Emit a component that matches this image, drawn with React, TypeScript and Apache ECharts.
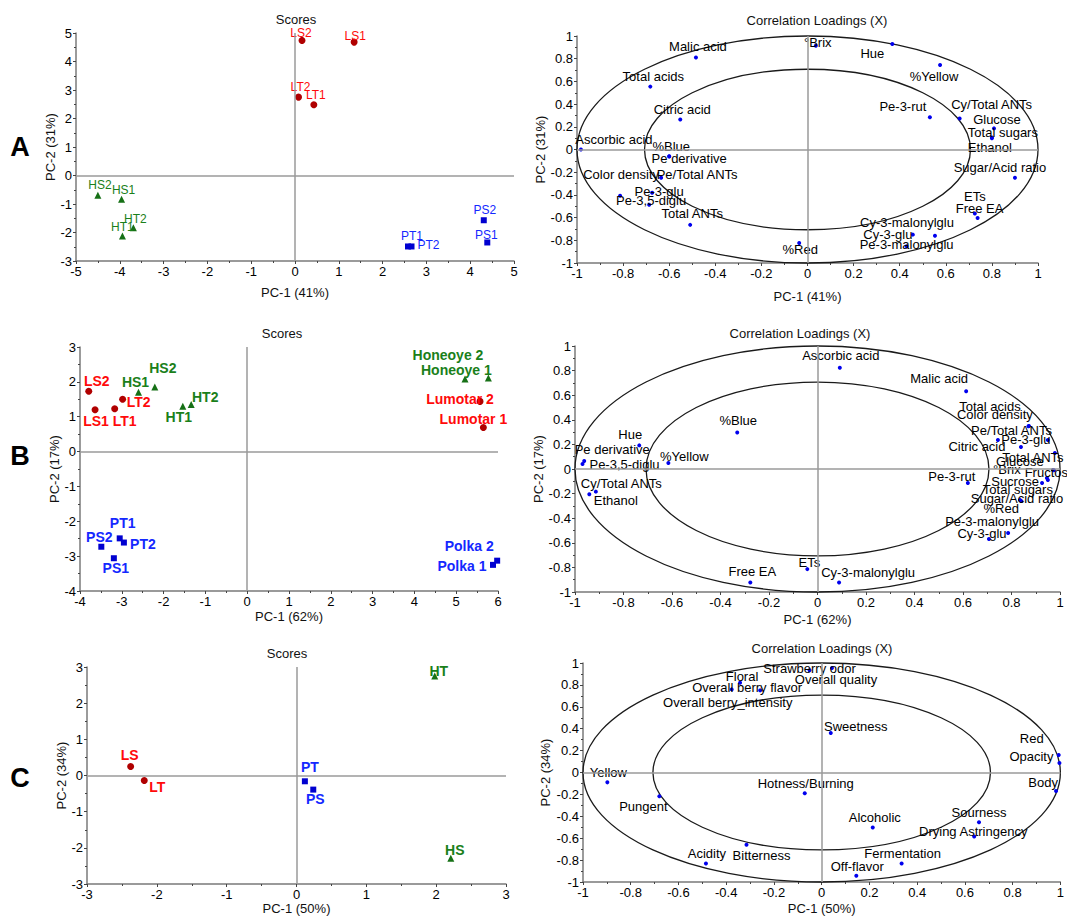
import React, { useEffect, useRef } from "react";
import * as echarts from "echarts";

type Pt = [string, number, number];
type Off = Record<string, [number, number]>;

const FONT = "'Liberation Sans', Arial, Helvetica, sans-serif";

// ---------- Panel A : scores ----------
const aScoresL: Pt[] = [["LS2", 0.16, 4.74], ["LS1", 1.35, 4.68], ["LT2", 0.08, 2.75], ["LT1", 0.43, 2.48]];
const aScoresH: Pt[] = [["HS2", -4.5, -0.69], ["HS1", -3.96, -0.83], ["HT2", -3.69, -1.83], ["HT1", -3.94, -2.12]];
const aScoresP: Pt[] = [["PT1", 2.58, -2.49], ["PT2", 2.66, -2.49], ["PS2", 4.31, -1.57], ["PS1", 4.39, -2.35]];

// ---------- Panel A : loadings ----------
const aLoadings: Pt[] = [
  ["Malic acid", -0.484, 0.81], ["°Brix", 0.036, 0.915], ["Hue", 0.368, 0.93], ["%Yellow", 0.575, 0.745],
  ["Total acids", -0.682, 0.554], ["Citric acid", -0.552, 0.264], ["Pe-3-rut", 0.531, 0.284],
  ["Cy/Total ANTs", 0.66, 0.274], ["Glucose", 0.809, 0.186], ["Total sugars", 0.8, 0.106], ["Ethanol", 0.8, 0.1],
  ["Ascorbic acid", -0.983, 0.0], ["%Blue", -0.6, -0.06], ["Pe derivative", -0.6, -0.062],
  ["Color density", -0.813, -0.407], ["Pe/Total ANTs", -0.635, -0.248], ["Pe-3-glu", -0.674, -0.381],
  ["Pe-3,5-diglu", -0.687, -0.487], ["Total ANTs", -0.509, -0.664], ["Sugar/Acid ratio", 0.9, -0.248],
  ["ETs", 0.726, -0.563], ["Free EA", 0.738, -0.604], ["%Red", -0.036, -0.824], ["Cy-3-glu", 0.457, -0.75],
  ["Cy-3-malonylglu", 0.553, -0.76], ["Pe-3-malonylglu", 0.43, -0.853],
];

// ---------- Panel B : scores ----------
const bScoresL: Pt[] = [["LS2", -3.79, 1.73], ["LS1", -3.64, 1.2], ["LT1", -3.17, 1.23], ["LT2", -2.98, 1.5], ["Lumotar 2", 5.57, 1.44], ["Lumotar 1", 5.65, 0.69]];
const bScoresH: Pt[] = [["HS1", -2.6, 1.7], ["HS2", -2.21, 1.85], ["HT1", -1.54, 1.3], ["HT2", -1.34, 1.35], ["Honeoye 2", 5.21, 2.08], ["Honeoye 1", 5.77, 2.11]];
const bScoresP: Pt[] = [["PT1", -3.05, -2.49], ["PT2", -2.95, -2.61], ["PS2", -3.49, -2.73], ["PS1", -3.19, -3.06], ["Polka 2", 5.98, -3.13], ["Polka 1", 5.88, -3.25]];

// ---------- Panel B : loadings ----------
const bLoadings: Pt[] = [
  ["Ascorbic acid", 0.092, 0.824], ["Malic acid", 0.613, 0.632], ["%Blue", -0.331, 0.297], ["Hue", -0.735, 0.192],
  ["Pe derivative", -0.962, 0.065], ["Pe-3,5-diglu", -0.969, 0.04], ["%Yellow", -0.615, 0.049],
  ["Cy/Total ANTs", -0.941, -0.205], ["Ethanol", -0.914, -0.184],
  ["Total acids", 0.872, 0.35], ["Pe/Total ANTs", 0.87, 0.348], ["Color density", 0.744, 0.236],
  ["Pe-3-glu", 0.95, 0.236], ["Citric acid", 0.839, 0.179], ["Total ANTs", 0.979, 0.13],
  ["Glucose", 0.971, -0.008], ["°Brix", 0.946, -0.073], ["Fructose", 0.975, -0.01], ["Sucrose", 0.926, -0.114],
  ["Total sugars", 0.95, -0.089], ["Sugar/Acid ratio", 0.835, -0.252], ["%Red", 0.84, -0.26],
  ["Pe-3-malonylglu", 0.786, -0.52], ["Cy-3-glu", 0.707, -0.569], ["Pe-3-rut", 0.62, -0.114],
  ["Free EA", -0.277, -0.922], ["ETs", -0.042, -0.814], ["Cy-3-malonylglu", 0.089, -0.922],
];

// ---------- Panel C : scores ----------
const cScoresL: Pt[] = [["LS", -2.375, 0.25], ["LT", -2.18, -0.14]];
const cScoresP: Pt[] = [["PT", 0.12, -0.16], ["PS", 0.24, -0.39]];
const cScoresH: Pt[] = [["HT", 1.98, 2.75], ["HS", 2.21, -2.29]];

// ---------- Panel C : loadings ----------
const cLoadings: Pt[] = [
  ["Strawberry odor", -0.051, 0.934], ["Overall quality", 0.043, 0.955], ["Floral", -0.342, 0.819],
  ["Overall berry flavor", -0.258, 0.75], ["Overall berry_intensity", -0.377, 0.759], ["Sweetness", 0.038, 0.361],
  ["Red", 0.993, 0.16], ["Opacity", 0.996, 0.087], ["Body", 0.982, -0.169], ["Yellow", -0.898, -0.09],
  ["Pungent", -0.68, -0.217], ["Hotness/Burning", -0.071, -0.19], ["Alcoholic", 0.214, -0.503],
  ["Sourness", 0.659, -0.455], ["Drying Astringency", 0.639, -0.584], ["Bitterness", -0.315, -0.66],
  ["Acidity", -0.485, -0.831], ["Fermentation", 0.335, -0.831], ["Off-flavor", 0.145, -0.943],
];

// correlation circles (100% and 50% explained variance)
const circleRadii = [1, 0.7071];

// ---------- label placement (layout, px offsets from the point) ----------
const aScoreOff: Off = {
  LS2: [-1, -7], LS1: [1, -6], LT2: [2, -10], LT1: [2, -10], HS2: [2, -10], HS1: [2, -9], HT2: [2, -9], HT1: [0, -9],
  PT1: [4, -10], PT2: [17, -1], PS2: [1, -10], PS1: [-1, -7],
};
const aLoadOff: Off = {
  "Malic acid": [2, -11], "°Brix": [2, -3], Hue: [-20, 10], "%Yellow": [-6, 12], "Total acids": [3, -10],
  "Citric acid": [2, -10], "Pe-3-rut": [-27, -11], "Cy/Total ANTs": [32, -14], Glucose: [3, -9],
  "Total sugars": [11, -5], Ethanol: [-2, 9], "Ascorbic acid": [33, -10], "%Blue": [2, -10],
  "Pe derivative": [20, 2], "Color density": [1, -21], "Pe/Total ANTs": [36, -3], "Pe-3-glu": [7, -1],
  "Pe-3,5-diglu": [2, -4], "Total ANTs": [2, -11], "Sugar/Acid ratio": [-15, -10], ETs: [0, -17],
  "Free EA": [2, -10], "%Red": [1, 6], "Cy-3-glu": [-25, 0], "Cy-3-malonylglu": [-28, -13], "Pe-3-malonylglu": [0, -2],
};
const bScoreOff: Off = {
  LS2: [8, -10], LS1: [1, 11], LT1: [10, 12], LT2: [16, 3], HS1: [-3, -10], HS2: [8, -19], HT1: [-4, 11], HT2: [14, -8],
  "Honeoye 2": [-17, -24], "Honeoye 1": [-32, -8], "Lumotar 2": [-20, -2], "Lumotar 1": [-10, -9],
  PT1: [3, -15], PT2: [19, 1], PS2: [-2, -10], PS1: [2, 10], "Polka 2": [-28, -15], "Polka 1": [-31, 1],
};
const bLoadOff: Off = {
  "Ascorbic acid": [1, -12], "Malic acid": [-27, -13], "%Blue": [1, -12], Hue: [-9, -11], "Pe derivative": [28, -12],
  "Pe-3,5-diglu": [42, 0], "%Yellow": [16, -6], "Cy/Total ANTs": [32, -11], Ethanol: [20, 9],
  "Total acids": [-39, -19], "Pe/Total ANTs": [-17, 4], "Color density": [-3, -25], "Pe-3-glu": [-22, 0],
  "Citric acid": [-44, 0], "Total ANTs": [-22, 4], Glucose: [-33, -8], "°Brix": [-40, -8], Fructose: [-4, 2],
  Sucrose: [-27, -2], "Total sugars": [-30, 10], "Sugar/Acid ratio": [-3, -1], "%Red": [-20, 8],
  "Pe-3-malonylglu": [-16, -11], "Cy-3-glu": [-7, -5], "Pe-3-rut": [-16, -7], "Free EA": [2, -11], ETs: [2, -7],
  "Cy-3-malonylglu": [29, -10],
};
const cScoreOff: Off = { LS: [-1, -11], LT: [13, 6], PT: [5, -14], PS: [2, 9], HT: [4, -5], HS: [4, -8] };
const cLoadOff: Off = {
  "Strawberry odor": [0, -2], "Overall quality": [4, 12], Floral: [2, -6], "Overall berry flavor": [-13, -3],
  "Overall berry_intensity": [-4, 13], Sweetness: [25, -6], Red: [-27, -16], Opacity: [-28, -6], Body: [-13, -9],
  Yellow: [1, -10], Pungent: [-16, 10], "Hotness/Burning": [1, -10], Alcoholic: [2, -10], Sourness: [0, -10],
  "Drying Astringency": [-1, -5], Bitterness: [15, 11], Acidity: [1, -10], Fermentation: [1, -10], "Off-flavor": [1, -9],
};

const grids = [
  { left: 76, top: 33, width: 438, height: 228 },
  { left: 577, top: 36, width: 461, height: 227 },
  { left: 80, top: 347, width: 418, height: 244 },
  { left: 575, top: 346, width: 485, height: 246 },
  { left: 87, top: 667, width: 419, height: 217 },
  { left: 583, top: 663, width: 481, height: 221 },
];

const xAxesCfg: [number, number, number, string, number][] = [
  [-5, 5, 1, "PC-1 (41%)", 25],
  [-1, 1, 0.2, "PC-1 (41%)", 27],
  [-4, 6, 1, "PC-1 (62%)", 19],
  [-1, 1, 0.2, "PC-1 (62%)", 21],
  [-3, 3, 1, "PC-1 (50%)", 18],
  [-1, 1, 0.2, "PC-1 (50%)", 20],
];
const yAxesCfg: [number, number, number, string, number][] = [
  [-3, 5, 1, "PC-2 (31%)", 15],
  [-1, 1, 0.2, "PC-2 (31%)", 27],
  [-4, 3, 1, "PC-2 (17%)", 15],
  [-1, 1, 0.2, "PC-2 (17%)", 29],
  [-3, 3, 1, "PC-2 (34%)", 13],
  [-1, 1, 0.2, "PC-2 (34%)", 31],
];

const titles: [string, number, number][] = [
  ["Scores", 296, 19], ["Correlation Loadings (X)", 817, 20],
  ["Scores", 282, 333], ["Correlation Loadings (X)", 800, 333],
  ["Scores", 287, 653], ["Correlation Loadings (X)", 822, 648],
];
const panelLetters: [string, number, number][] = [["A", 20, 147], ["B", 20, 456], ["C", 20, 778]];

const RED_M = "#b00000", RED_T = "#ff0a0a";
const GRN_M = "#167016", GRN_T = "#1a801a";
const BLU_M = "#0000d0", BLU_T = "#1428ff";

function makeAxis(cfg: [number, number, number, string, number], gridIndex: number) {
  const [min, max, interval, name, gap] = cfg;
  return {
    type: "value", gridIndex, min, max, interval, name, nameLocation: "middle", nameGap: gap,
    nameTextStyle: { color: "#111", fontSize: 13, fontFamily: FONT },
    axisLine: { show: true, onZero: false, lineStyle: { color: "#7a7a7a", width: 1.5 } },
    axisTick: { show: true, length: 3, lineStyle: { color: "#444" } },
    minorTick: { show: true, splitNumber: 2, length: 2, lineStyle: { color: "#444" } },
    axisLabel: { color: "#000", fontSize: 13, margin: 4, fontFamily: FONT, showMinLabel: true, showMaxLabel: true },
    splitLine: { show: false },
  };
}

function scoreSeries(g: number, pts: Pt[], off: Off, symbol: string, size: number, mColor: string, tColor: string, bold: boolean) {
  return {
    type: "scatter", xAxisIndex: g, yAxisIndex: g, symbol, symbolSize: size, z: 4,
    itemStyle: { color: mColor, opacity: 1 },
    data: pts.map(([n, x, y]) => ({ name: n, value: [x, y], label: { offset: off[n] || [0, -10] } })),
    label: {
      show: true, position: "inside", formatter: "{b}", color: tColor, fontFamily: FONT, opacity: 1,
      fontSize: bold ? 14 : 12, fontWeight: bold ? "bold" : "normal",
    },
  };
}

function loadingSeries(g: number, pts: Pt[], off: Off) {
  return {
    type: "scatter", xAxisIndex: g, yAxisIndex: g, symbol: "circle", symbolSize: 4, z: 4,
    itemStyle: { color: "#0000ee", opacity: 1 },
    data: pts.map(([n, x, y]) => ({ name: n, value: [x, y], label: { offset: off[n] || [0, -10] } })),
    label: { show: true, position: "inside", formatter: "{b}", color: "#000", opacity: 1, fontFamily: FONT, fontSize: 13 },
  };
}

function zeroLines(g: number) {
  return {
    type: "scatter", xAxisIndex: g, yAxisIndex: g, data: [], z: 2, silent: true,
    markLine: {
      silent: true, symbol: ["none", "none"], label: { show: false },
      lineStyle: { color: "#9a9a9a", width: 1.5, type: "solid", opacity: 1 },
      data: [{ xAxis: 0 }, { yAxis: 0 }],
    },
  };
}

function circles(g: number) {
  return {
    type: "custom", xAxisIndex: g, yAxisIndex: g, coordinateSystem: "cartesian2d", clip: false, z: 3, silent: true,
    data: circleRadii.map((r) => [0, 0, r]),
    encode: { x: 0, y: 1 },
    renderItem: (_p: any, api: any) => {
      const r = api.value(2);
      const c = api.coord([api.value(0), api.value(1)]);
      const s = api.size([r, r]);
      return {
        type: "ellipse",
        shape: { cx: c[0], cy: c[1], rx: s[0], ry: s[1] },
        style: { fill: "none", stroke: "#1a1a1a", lineWidth: 1.3 },
      };
    },
  };
}

export default function App() {
  const ref = useRef<HTMLDivElement>(null);
  useEffect(() => {
    if (!ref.current) return;
    const chart = echarts.init(ref.current, undefined, { renderer: "svg" });
    const graphics: any[] = [];
    titles.forEach(([t, x, y]) =>
      graphics.push({
        type: "text", x, y,
        style: { text: t, fill: "#111", font: `13px ${FONT}`, textAlign: "center", textVerticalAlign: "middle", align: "center", verticalAlign: "middle" },
      })
    );
    panelLetters.forEach(([t, x, y]) =>
      graphics.push({
        type: "text", x, y,
        style: { text: t, fill: "#000", font: `bold 27px ${FONT}`, textAlign: "center", textVerticalAlign: "middle", align: "center", verticalAlign: "middle" },
      })
    );
    const series: any[] = [];
    for (let g = 0; g < 6; g++) series.push(zeroLines(g));
    [1, 3, 5].forEach((g) => series.push(circles(g)));
    series.push(scoreSeries(0, aScoresL, aScoreOff, "circle", 7, RED_M, RED_T, false));
    series.push(scoreSeries(0, aScoresH, aScoreOff, "triangle", 7, GRN_M, GRN_T, false));
    series.push(scoreSeries(0, aScoresP, aScoreOff, "rect", 6, BLU_M, BLU_T, false));
    series.push(loadingSeries(1, aLoadings, aLoadOff));
    series.push(scoreSeries(2, bScoresL, bScoreOff, "circle", 7, RED_M, RED_T, true));
    series.push(scoreSeries(2, bScoresH, bScoreOff, "triangle", 7, GRN_M, GRN_T, true));
    series.push(scoreSeries(2, bScoresP, bScoreOff, "rect", 6, BLU_M, BLU_T, true));
    series.push(loadingSeries(3, bLoadings, bLoadOff));
    series.push(scoreSeries(4, cScoresL, cScoreOff, "circle", 7, RED_M, RED_T, true));
    series.push(scoreSeries(4, cScoresP, cScoreOff, "rect", 6, BLU_M, BLU_T, true));
    series.push(scoreSeries(4, cScoresH, cScoreOff, "triangle", 7, GRN_M, GRN_T, true));
    series.push(loadingSeries(5, cLoadings, cLoadOff));

    chart.setOption({
      animation: false,
      backgroundColor: "#ffffff",
      textStyle: { fontFamily: FONT },
      grid: grids.map((g) => ({ ...g, containLabel: false })),
      xAxis: xAxesCfg.map((c, i) => makeAxis(c, i)),
      yAxis: yAxesCfg.map((c, i) => makeAxis(c, i)),
      graphic: graphics,
      series,
    });
    return () => chart.dispose();
  }, []);
  return (
    <div
      ref={ref}
      style={{ position: "absolute", left: 0, top: 0, width: 1067, height: 916, background: "#fff" }}
    />
  );
}
